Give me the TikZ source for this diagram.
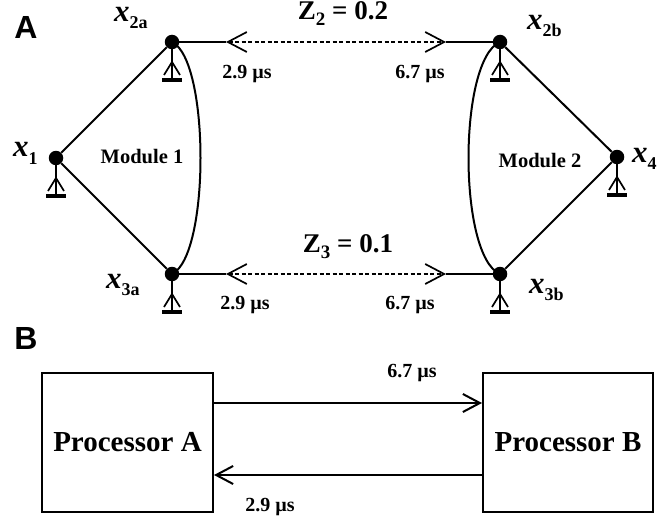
\documentclass[tikz,border=0pt]{standalone}
\usepackage{fontspec}
\setmainfont{Liberation Serif}
\newfontfamily\labfont{Liberation Sans}
\usetikzlibrary{arrows.meta}
\newcommand{\fs}[1]{\fontsize{#1}{#1}\selectfont}
\newcommand{\xlab}[1]{{\fs{31}\bfseries\itshape x}\raisebox{-7pt}{\fs{18}\bfseries #1}}
\tikzset{
  dot/.style={circle,fill=black,inner sep=0pt,minimum size=14.5pt},
  edge/.style={line width=2pt},
  dashlink/.style={line width=1.7pt,dash pattern=on 4pt off 2.5pt,
    {Straight Barb[length=19pt,width=20pt,line width=1.7pt]}-{Straight Barb[length=19pt,width=20pt,line width=1.7pt]}},
  barr/.style={line width=2pt,-{Straight Barb[length=17pt,width=18pt,line width=2pt]}},
  xl/.style={anchor=base west,inner sep=0pt},
  tlab/.style={font=\fs{20}\bfseries,inner sep=0pt},
  modlab/.style={font=\fs{20.5}\bfseries,inner sep=0pt},
  zlab/.style={font=\fs{27}\bfseries,inner sep=0pt,anchor=base},
  panel/.style={font=\labfont\bfseries\fs{32},inner sep=0pt},
  procbox/.style={draw,line width=2pt,minimum height=139pt,font=\fs{29}\bfseries,inner sep=0pt},
  gnd/.pic={
    \draw[line width=1.7pt] (0,0) -- (0,38);
    \draw[line width=1.7pt] (-8,33) -- (0,20) -- (8,33);
    \draw[line width=3.5pt] (-10,38) -- (10,38);
  }
}
\begin{document}
\begin{tikzpicture}[x=1pt,y=-1pt]
\useasboundingbox (0,0) rectangle (658,524);
% panel labels
\node[panel] (lA) at (26,27) {A};
\node[panel] (lB) at (26,338) {B};
% nodes
\node[dot] (x1) at (56,158) {};
\node[dot] (x2a) at (172,42) {};
\node[dot] (x3a) at (172,274) {};
\node[dot] (x2b) at (500,42) {};
\node[dot] (x3b) at (500,274) {};
\node[dot] (x4) at (617,157) {};
% ground symbols
\pic at (x1) {gnd};
\pic at (x2a) {gnd};
\pic at (x3a) {gnd};
\pic at (x2b) {gnd};
\pic at (x3b) {gnd};
\pic at (x4) {gnd};
% module edges
\draw[edge] (x1) -- (x2a);
\draw[edge] (x1) -- (x3a);
\draw[edge] (x2b) -- (x4);
\draw[edge] (x3b) -- (x4);
\draw[edge] (x2a.center) .. controls (210,60) and (210,256) .. (x3a.center);
\draw[edge] (x2b.center) .. controls (458,60) and (458,256) .. (x3b.center);
% links
\coordinate (t2l) at (226,42);
\coordinate (t2r) at (446,42);
\coordinate (t3l) at (226,274);
\coordinate (t3r) at (446,274);
\draw[edge] (x2a) -- (t2l);
\draw[edge] (t2r) -- (x2b);
\draw[dashlink] (t2l) -- (t2r);
\draw[edge] (x3a) -- (t3l);
\draw[edge] (t3r) -- (x3b);
\draw[dashlink] (t3l) -- (t3r);
% labels
\node[xl] (l2a) at (114,22) {\xlab{2a}};
\node[xl] (l2b) at (527,30) {\xlab{2b}};
\node[xl] (l1) at (13,157) {\xlab{1}};
\node[xl] (l4) at (632,162) {\xlab{4}};
\node[xl] (l3a) at (106,288) {\xlab{3a}};
\node[xl] (l3b) at (529,293) {\xlab{3b}};
\node[modlab] (m1) at (142,157) {Module 1};
\node[modlab] (m2) at (540,161) {Module 2};
\node[zlab] (z2) at (343,20) {Z\raisebox{-6pt}{\fs{19}2} = 0.2};
\node[zlab] (z3) at (348,252) {Z\raisebox{-6pt}{\fs{19}3} = 0.1};
\node[tlab] (d1) at (247,74) {2.9 µs};
\node[tlab] (d2) at (420,74) {6.7 µs};
\node[tlab] (d3) at (245,305) {2.9 µs};
\node[tlab] (d4) at (410,305) {6.7 µs};
% panel B
\node[procbox,minimum width=171pt] (pa) at (127.5,442.5) {Processor A};
\node[procbox,minimum width=170pt] (pb) at (568,442.5) {Processor B};
\draw[barr] ([yshift=39.5pt]pa.east) -- ([yshift=39.5pt]pb.west);
\draw[barr] ([yshift=-32.5pt]pb.west) -- ([yshift=-32.5pt]pa.east);
\node[tlab] (d5) at (412,373) {6.7 µs};
\node[tlab] (d6) at (270,507) {2.9 µs};
\end{tikzpicture}
\end{document}
